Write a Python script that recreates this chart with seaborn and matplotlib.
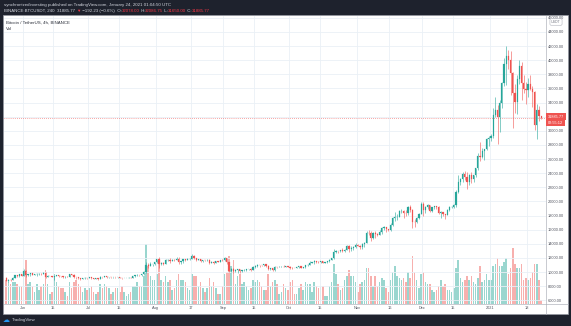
import numpy as np
import pandas as pd
import matplotlib
matplotlib.use("Agg")
import matplotlib.pyplot as plt
import matplotlib.dates as mdates
from matplotlib.patches import Rectangle
from matplotlib.lines import Line2D
import seaborn as sns

# ---------------- data (daily candles, BTC/USDT) ----------------
start_date = "2020-05-24"
first_open = 9170

closes = [
    8720, 8900, 8842, 9204, 9575, 9427, 9697, 9448,
    10200, 9518, 9666, 9789, 9621, 9666, 9746, 9782, 9772, 9885, 9280, 9465, 9473, 9342, 9426,
    9526, 9465, 9386, 9310, 9358, 9294, 9685, 9624, 9296, 9249, 9162, 9013, 9116, 9192, 9138,
    9232, 9086, 9058, 9135, 9069, 9342, 9253, 9428, 9277, 9278, 9240, 9303, 9243, 9255, 9197,
    9133, 9155, 9171, 9208, 9161, 9390, 9518, 9602, 9538, 9700, 9931, 11029, 10906, 11100, 11111, 11351,
    11801, 11071, 11219, 11191, 11744, 11762, 11594, 11762, 11681, 11892, 11393, 11565, 11780, 11760, 11852,
    11911, 12281, 11945, 11754, 11853, 11531, 11662, 11648, 11754, 11325, 11466, 11315, 11531, 11470, 11711, 11650,
    11920, 11389, 10166, 10467, 10166, 10256, 10373, 10126, 10223, 10340, 10394, 10443, 10328, 10680, 10786,
    10954, 10939, 10933, 11080, 10920, 10418, 10529, 10241, 10737, 10690, 10727, 10774, 10692, 10840, 10776,
    10620, 10570, 10550, 10670, 10788, 10600, 10668, 10923, 11050, 11296, 11370, 11529, 11429, 11422, 11500,
    11322, 11360, 11496, 11745, 11914, 12815, 12975, 12931, 13108, 13032, 13068, 13640, 13266, 13456, 13546, 13780,
    13737, 13550, 14024, 14146, 15590, 15580, 14823, 15478, 15328, 15297, 15701, 16276, 16317, 16068, 15957,
    16713, 17645, 17804, 17817, 18621, 18642, 18370, 18365, 19160, 18719, 17150, 17139, 17720, 18185, 19696,
    18765, 19205, 19422, 18650, 19148, 19359, 19166, 18324, 18541, 18254, 18036, 18808, 19175, 19273, 19426,
    21335, 22797, 23107, 23821, 23455, 22719, 23810, 23232, 23729, 24712, 26493, 26281, 27079, 27385, 28875, 28923,
    29331, 32179, 33000, 31989, 33949, 36769, 39432, 40582, 40088, 38150, 35404, 34051, 37371, 39144, 36742,
    35994, 35828, 36631, 35891, 35468, 30850, 32945, 32078, 31885.77,
]

highs = [
    9307, 8980, 9017, 9225, 9625, 9605, 9740, 9700,
    10380, 10228, 9690, 9881, 9854, 9735, 9800, 9800, 9880, 9990, 9935, 9557, 9494, 9480, 9476,
    9580, 9560, 9480, 9400, 9400, 9420, 9780, 9700, 9671, 9320, 9280, 9196, 9190, 9232, 9200,
    9292, 9270, 9126, 9190, 9145, 9375, 9350, 9480, 9450, 9318, 9300, 9345, 9346, 9280, 9275,
    9200, 9185, 9200, 9230, 9223, 9430, 9540, 9669, 9630, 9730, 10111, 11415, 11250, 11350, 11170, 11454,
    11861, 12123, 11476, 11420, 11785, 11900, 11915, 11806, 11805, 12080, 12058, 11617, 11800, 11850, 11966,
    11937, 12486, 12400, 12020, 11884, 11880, 11686, 11718, 11825, 11772, 11530, 11595, 11543, 11570, 11720, 11780,
    12067, 11950, 11460, 10636, 10560, 10355, 10412, 10440, 10350, 10480, 10400, 10480, 10580, 10800, 10940,
    11100, 11040, 11040, 11180, 11052, 10990, 10575, 10540, 10790, 10760, 10800, 10800, 10950, 10860, 10850,
    10920, 10660, 10600, 10690, 10800, 10790, 10685, 10955, 11100, 11488, 11445, 11725, 11560, 11550, 11620,
    11545, 11400, 11500, 11824, 12030, 13217, 13185, 13025, 13165, 13350, 13250, 13789, 13860, 13640, 13680, 14100,
    13900, 13812, 14071, 14259, 15750, 15965, 15770, 15650, 15840, 15460, 15965, 16340, 16480, 16320, 16150,
    16880, 17860, 18476, 18179, 18800, 18965, 18750, 18770, 19418, 19484, 18915, 17457, 17853, 18346, 19863,
    19888, 19308, 19566, 19527, 19177, 19420, 19420, 19294, 18639, 18557, 18283, 18948, 19411, 19349, 19570,
    21560, 23800, 23285, 24171, 24295, 24102, 23837, 24100, 23789, 24789, 26867, 28422, 27500, 27410, 28996, 29300,
    29600, 33300, 34778, 33600, 34360, 36939, 40365, 41950, 41380, 41350, 38264, 36628, 37850, 40100, 39747,
    37950, 36852, 37469, 37850, 36415, 35600, 33826, 33456, 32086.75,
]

lows = [
    8700, 8632, 8700, 8811, 9110, 9330, 9342, 9366,
    9417, 9266, 9365, 9450, 9581, 9528, 9375, 9633, 9570, 9691, 9113, 9232, 9395, 9252, 8910,
    9370, 9242, 9281, 9200, 9216, 9275, 9282, 9573, 9200, 9000, 9036, 8833, 8940, 9024, 9064,
    9087, 8940, 9041, 9055, 8893, 9055, 9200, 9230, 9205, 9112, 9185, 9157, 9200, 9108, 9170,
    9006, 9090, 9131, 9120, 9132, 9150, 9280, 9450, 9437, 9500, 9630, 9920, 10560, 10820, 10841, 10975,
    11210, 10518, 10925, 11000, 11100, 11562, 11345, 11520, 11516, 11670, 11125, 11150, 11288, 11625, 11675,
    11687, 11817, 11820, 11562, 11668, 11485, 11376, 11514, 11595, 11122, 11255, 11138, 11280, 11430, 11460, 11570,
    11627, 11166, 10000, 9960, 9825, 10020, 9875, 9850, 10000, 10200, 10200, 10285, 10200, 10260, 10630,
    10670, 10745, 10820, 10890, 10760, 10350, 10350, 10136, 10190, 10550, 10660, 10650, 10660, 10640, 10680,
    10430, 10375, 10500, 10520, 10620, 10530, 10560, 10530, 10820, 11040, 11220, 11190, 11300, 11280, 11270,
    11220, 11300, 11330, 11410, 11680, 11900, 12700, 12725, 12880, 12880, 12775, 13050, 12900, 12990, 13125, 13420,
    13620, 13200, 13282, 13525, 14093, 15190, 14344, 14700, 14805, 15070, 15260, 15440, 15970, 15715, 15800,
    15870, 16556, 17214, 17350, 17740, 18320, 17610, 18000, 18020, 18567, 16188, 16438, 16880, 17517, 18180,
    18001, 18330, 18925, 18565, 18500, 18857, 18902, 18200, 17650, 17911, 17572, 18020, 18711, 19000, 19050,
    19278, 21230, 22350, 22750, 23060, 21815, 22353, 22600, 22703, 23433, 24500, 25700, 26101, 25880, 27320, 27850,
    28624, 28946, 31963, 28130, 29900, 33288, 36300, 36500, 38720, 35111, 30420, 32531, 32380, 36701, 34408,
    35357, 33850, 34800, 35844, 33400, 30071, 28850, 31390, 31650,
]

# volume (thousand BTC per day, as read from the overlay heights)
volumes = [
    60, 55, 50, 55, 55, 50, 45, 45,
    90, 110, 50, 55, 45, 30, 50, 35, 45, 50, 85, 50, 25, 30, 75,
    55, 45, 40, 40, 30, 20, 55, 40, 55, 60, 50, 45, 30, 40, 35,
    40, 45, 30, 25, 30, 50, 40, 50, 45, 40, 25, 30, 40, 40, 30,
    45, 30, 20, 25, 30, 45, 45, 55, 45, 45, 70, 150, 95, 70, 60, 60,
    75, 110, 60, 55, 70, 55, 60, 35, 40, 60, 75, 60, 60, 55, 40,
    35, 75, 70, 70, 45, 55, 40, 30, 40, 65, 45, 55, 40, 25, 25, 45,
    75, 80, 120, 95, 110, 50, 70, 75, 50, 55, 45, 35, 40, 60, 55,
    60, 55, 45, 35, 35, 75, 45, 55, 60, 50, 25, 30, 50, 40, 35,
    55, 60, 25, 25, 40, 50, 35, 55, 50, 50, 30, 55, 45, 40, 45,
    45, 20, 20, 45, 55, 100, 75, 50, 35, 40, 60, 70, 85, 70, 70, 55,
    30, 50, 55, 60, 90, 90, 70, 45, 70, 45, 55, 65, 60, 40, 30,
    60, 80, 95, 70, 65, 60, 65, 55, 80, 65, 120, 80, 60, 40, 75,
    80, 55, 50, 50, 35, 30, 35, 45, 60, 45, 50, 35, 35, 30, 40,
    90, 110, 65, 55, 60, 70, 60, 70, 55, 50, 65, 95, 55, 60, 75, 60,
    60, 95, 100, 115, 95, 95, 105, 115, 75, 90, 140, 100, 90, 90, 100,
    60, 65, 60, 65, 80, 100, 100, 60, 10,
]

tick_dates = ["2020-06-01", "2020-06-15", "2020-07-01", "2020-07-15", "2020-08-01", "2020-08-17",
              "2020-09-01", "2020-09-15", "2020-10-01", "2020-10-15", "2020-11-01", "2020-11-16",
              "2020-12-01", "2020-12-15", "2021-01-01", "2021-01-18"]
tick_labels = ["Jun", "15", "Jul", "15", "Aug", "17", "Sep", "15", "Oct", "15", "Nov", "16",
               "Dec", "15", "2021", "18"]
price_ticks = list(range(6000, 46001, 2000))
last_price = 31885.77

# ---------------- figure ----------------
W, H = 571, 326
def fx(x): return x / W
def fy(y): return 1 - y / H

sns.set_theme(style="white")
plt.rcParams["font.family"] = ["Liberation Sans", "DejaVu Sans"]

UP, DOWN = "#26a69a", "#ef5350"
fig = plt.figure(figsize=(W / 100, H / 100), dpi=100, facecolor="#1e222d")
fig.patches.append(Rectangle((fx(3), fy(314)), 565 / W, 299 / H, transform=fig.transFigure,
                             facecolor="white", edgecolor="#9598a1", lw=0.5, zorder=-5))

dates = pd.date_range(start_date, periods=len(closes), freq="D")
t = mdates.date2num(dates) + 0.5
opens = np.array([first_open] + closes[:-1], dtype=float)
c = np.array(closes, dtype=float)
hi = np.array(highs, dtype=float)
lo = np.array(lows, dtype=float)
up = c >= opens
cols = np.where(up, UP, DOWN)

jun1 = mdates.date2num(pd.Timestamp("2020-06-01"))
xlim = (jun1 - 8.52, jun1 + 239.7)
rect = [fx(4), fy(304), 542 / W, 288 / H]

# volume overlay (seaborn histogram weighted by volume)
ax_vol = fig.add_axes(rect)
df_vol = pd.DataFrame({"t": t, "vol": np.array(volumes, dtype=float),
                       "dir": np.where(up, "up", "down")})
sns.histplot(data=df_vol, x="t", weights="vol", hue="dir", hue_order=["up", "down"],
             palette={"up": "#9ad6cf", "down": "#f7b0ae"}, binwidth=1.0,
             binrange=(float(t[0] - 0.5), float(t[-1] + 0.5)), shrink=0.7,
             alpha=1, linewidth=0, legend=False, ax=ax_vol)
ax_vol.set_xlim(xlim)
ax_vol.set_ylim(0, 720)
ax_vol.axis("off")

# price axes
ax = fig.add_axes(rect)
ax.patch.set_visible(False)
ax.set_xlim(xlim)
ax.set_ylim(5467, 46266)
ax.set_axisbelow(True)
ax.grid(True, color="#eaf0f6", lw=0.6)

ax.vlines(t, lo, hi, colors=cols, lw=0.4, zorder=2)
ax.bar(t, np.abs(c - opens), bottom=np.minimum(c, opens), width=0.55, color=cols,
       edgecolor=cols, linewidth=0.15, zorder=3)
ax.axhline(last_price, color=DOWN, lw=0.5, ls=(0, (1, 2)), zorder=1)

ax.set_xticks(mdates.date2num(pd.to_datetime(tick_dates)))
ax.set_xticklabels(tick_labels)
ax.yaxis.tick_right()
ax.set_yticks(price_ticks)
ax.set_yticklabels([f"{v:.2f}" for v in price_ticks])
ax.tick_params(axis="both", length=0, labelsize=2.8, labelcolor="#50535e", pad=1.5)
for s in ["top", "left"]:
    ax.spines[s].set_visible(False)
for s in ["right", "bottom"]:
    ax.spines[s].set_color("#b2b5be")
    ax.spines[s].set_linewidth(0.5)
ax.set_xlabel("")
ax.set_ylabel("")

fig.lines.append(Line2D([fx(546), fx(568)], [fy(304), fy(304)], transform=fig.transFigure,
                        color="#b2b5be", lw=0.5))
fig.lines.append(Line2D([fx(546), fx(546)], [fy(304), fy(314)], transform=fig.transFigure,
                        color="#b2b5be", lw=0.5))

# last price labels
ax.annotate(f"{last_price:.2f}", xy=(1, last_price), xycoords=("axes fraction", "data"),
            xytext=(1.6, 0.6), textcoords="offset points", ha="left", va="center",
            fontsize=2.8, color="white", annotation_clip=False, zorder=10,
            bbox=dict(boxstyle="square,pad=0.45", fc=DOWN, ec="none"))
ax.annotate("02:55:12", xy=(1, last_price), xycoords=("axes fraction", "data"),
            xytext=(1.6, -3.6), textcoords="offset points", ha="left", va="center",
            fontsize=2.8, color="white", annotation_clip=False, zorder=10,
            bbox=dict(boxstyle="square,pad=0.45", fc=DOWN, ec="none"))

fig.text(fx(556), fy(22), "USDT", fontsize=2.6, color="#787b86", ha="center", va="center",
         bbox=dict(boxstyle="round,pad=0.35", fc="white", ec="#b2b5be", lw=0.4), zorder=10)

# header
fig.text(fx(4), fy(5), "synchronizedinvesting published on TradingView.com, January 24, 2021 01:04:50 UTC",
         fontsize=3.2, color="#d1d4dc", va="center", ha="left")
renderer = fig.canvas.get_renderer()
light, red = "#d1d4dc", "#f23645"
segments = [("BINANCE:BTCUSDT, 240  31885.77 ", light), ("\u25bc", red),
            (" \u2212192.23 (\u22120.6%)  O:", light), ("32078.00", red), (" H:", light),
            ("32086.75", red), (" L:", light), ("31650.00", red), (" C:", light), ("31885.77", red)]
xpos = fx(4)
for s, col in segments:
    txt = fig.text(xpos, fy(11), s, fontsize=3.2, color=col, va="center", ha="left",
                   family=["Liberation Sans", "DejaVu Sans"])
    bb = txt.get_window_extent(renderer)
    xpos = fig.transFigure.inverted().transform((bb.x1, bb.y0))[0]

fig.text(fx(6), fy(23), "Bitcoin / TetherUS, 4h, BINANCE", fontsize=3.2, color="#2a2e39",
         va="center", ha="left")
fig.text(fx(6), fy(29.5), "Vol", fontsize=3.2, color="#2a2e39", va="center", ha="left")

# footer
fig.text(fx(3), fy(320.5), "\u2601", fontsize=5, color="#2196f3", va="center", ha="left",
         family=["DejaVu Sans"])
fig.text(fx(12), fy(320.5), "TradingView", fontsize=3.2, color="#d1d4dc", va="center", ha="left")

fig.savefig("out.png", dpi=100, facecolor=fig.get_facecolor())
